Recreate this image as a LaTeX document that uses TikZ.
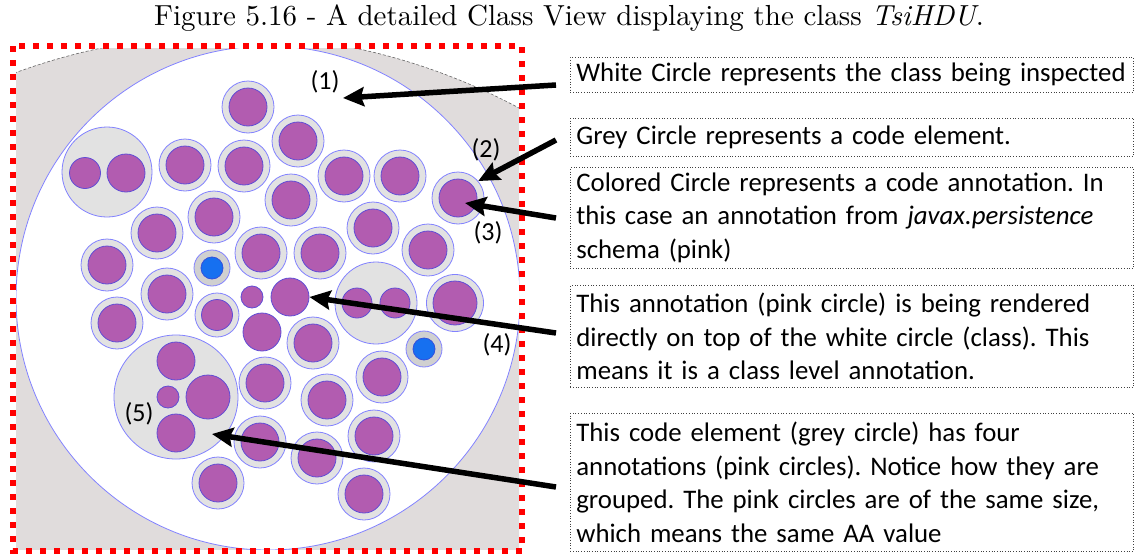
\documentclass[tikz,border=0pt]{standalone}
\usepackage{fontspec}
\newfontfamily\calibri{Carlito}
\usetikzlibrary{arrows.meta,positioning}

\definecolor{pinkfill}{RGB}{178,92,176}
\definecolor{pinkline}{RGB}{96,76,214}
\definecolor{ringfill}{RGB}{226,226,226}
\definecolor{ringline}{RGB}{130,130,255}
\definecolor{bluefill}{RGB}{22,112,240}
\definecolor{blueline}{RGB}{50,80,220}
\definecolor{bluering}{RGB}{208,208,208}
\definecolor{backgrey}{RGB}{224,220,220}

\tikzset{
  ring/.style={circle, draw=ringline, fill=ringfill, line width=0.8pt, inner sep=0pt},
  pink/.style={circle, draw=pinkline, fill=pinkfill, line width=0.8pt, inner sep=0pt},
  bluedot/.style={circle, draw=blueline, fill=bluefill, line width=0.8pt, inner sep=0pt},
  bluebase/.style={ring, fill=bluering},
  tag/.style={font=\calibri\fontsize{26}{30}\selectfont, inner sep=0pt},
  infobox/.style={draw=black!75, dotted, line width=0.7pt, anchor=north west,
    align=left, inner xsep=6pt, inner ysep=0pt, text width=551pt,
    font=\calibri\fontsize{26.8}{33.8}\selectfont\frenchspacing},
  pointer/.style={line width=5.5pt, -{Stealth[length=21pt,width=19pt,inset=3pt]}}
}

\begin{document}
\begin{tikzpicture}[x=1pt,y=-1pt]
\useasboundingbox (0,0) rectangle (1134,554);

% Caption
\node[scale=2.9] (caption) at (569,18)
  {Figure 5.16 - A detailed Class View displaying the class \textit{TsiHDU}.};

% Background of the view and the class (white circle)
\begin{scope}
\clip (16,48) rectangle (519,549);
\fill[backgrey] (228,650) circle (615);
\draw[black!60, densely dashed, line width=0.6pt] (228,650) circle (615);
\draw[ringline, fill=white, line width=0.8pt] (268,298) circle (252);
\end{scope}

% Code elements with one annotation each
\foreach \x/\y [count=\i] in {248/107, 298/141, 185/165, 244/166, 344/176,
  400/176, 291/200, 214/217, 373/228, 157/233, 261/253, 320/253, 428/250,
  107/265, 167/294, 117/323, 313/343, 265/383, 382/377, 327/400, 260/442,
  374/436, 317/458, 218/483, 364/494} {
  \node[ring, minimum size=52pt] (e\i) at (\x,\y) {};
  \node[pink, minimum size=38pt] (a\i) at (e\i) {};
}
\node[ring, minimum size=52pt] (sel) at (458,198) {};
\node[pink, minimum size=38pt] (selpink) at (sel) {};
\node[ring, minimum size=44pt] (small) at (217,315) {};
\node[pink, minimum size=31pt] at (small) {};
\node[ring, minimum size=57pt] (large) at (455,303) {};
\node[pink, minimum size=44pt] at (large) {};

% Code elements with several annotations
\node[ring, minimum size=90pt] (groupA) at (107,172) {};
\node[pink, minimum size=31pt] at (85,173) {};
\node[pink, minimum size=38pt] at (126,173) {};
\node[ring, minimum size=82pt] (groupB) at (376,303) {};
\node[pink, minimum size=30pt] at (357,303) {};
\node[pink, minimum size=30pt] at (395,303) {};
\node[ring, minimum size=124pt] (groupC) at (176,397) {};
\node[pink, minimum size=38pt] at (176,361) {};
\node[pink, minimum size=44pt] at (208,397) {};
\node[pink, minimum size=22pt] at (168,397) {};
\node[pink, minimum size=38pt] at (176,433) {};

% Other schema (blue)
\foreach \x/\y [count=\i] in {212/268, 424/349} {
  \node[bluebase, minimum size=36pt] (b\i) at (\x,\y) {};
  \node[bluedot, minimum size=22pt] at (b\i) {};
}

% Class level annotations
\node[pink, minimum size=22pt] (cls1) at (252,297) {};
\node[pink, minimum size=38pt] (cls2) at (290,297) {};
\node[pink, minimum size=38pt] (cls3) at (262,332) {};

% Frame
\draw[red, line width=6pt, dash pattern=on 6pt off 8pt] (13,46) rectangle (522,551);

% Numbers
\node[tag] (n1) at (325,82) {(1)};
\node[tag] (n2) at (486,150) {(2)};
\node[tag] (n3) at (488,233) {(3)};
\node[tag] (n4) at (497,345) {(4)};
\node[tag] (n5) at (139,414) {(5)};

% Explanations
\node[infobox, minimum height=35pt] (box1) at (570,57)
  {White Circle represents the class being inspected};
\node[infobox, minimum height=38pt] (box2) at (570,118)
  {Grey Circle represents a code element.};
\node[infobox, minimum height=101pt] (box3) at (570,167)
  {Colored Circle represents a code annotation. In\\
   this case an annotation from \textit{javax.persistence}\\
   schema (pink)};
\node[infobox, minimum height=102pt] (box4) at (570,285)
  {This annotation (pink circle) is being rendered\\
   directly on top of the white circle (class). This\\
   means it is a class level annotation.};
\node[infobox, minimum height=138pt] (box5) at (570,413)
  {This code element (grey circle) has four\\
   annotations (pink circles). Notice how they are\\
   grouped. The pink circles are of the same size,\\
   which means the same AA value};

% Arrows
\coordinate (tail1) at (556,85);
\coordinate (tail2) at (556,140);
\coordinate (tail3) at (556,218);
\coordinate (tail4) at (556,333);
\coordinate (tail5) at (556,487);
\coordinate (tip1) at (343,98);
\coordinate (tip3) at (465,203);
\coordinate (tip5) at (212,434);
\draw[pointer] (tail1) -- (tip1);
\draw[pointer] (tail2) -- (sel.40);
\draw[pointer] (tail3) -- (tip3);
\draw[pointer] (tail4) -- (cls2.east);
\draw[pointer] (tail5) -- (tip5);

\end{tikzpicture}
\end{document}
